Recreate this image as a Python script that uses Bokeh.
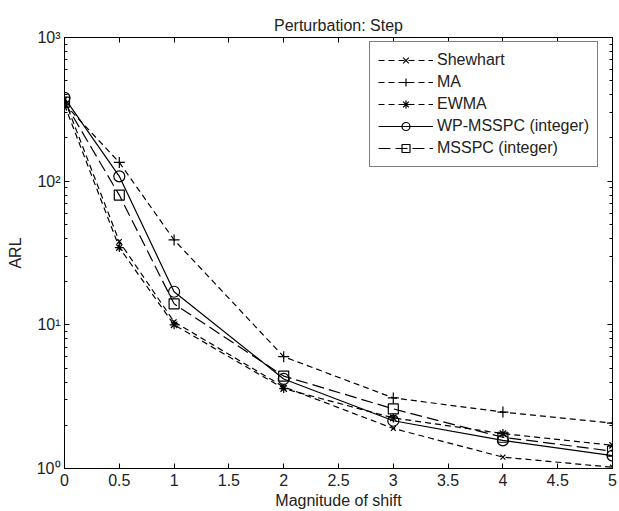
from bokeh.plotting import figure
from bokeh.models import (FixedTicker, LinearAxis, LogAxis, Legend, LegendItem,
                          CustomJSTickFormatter, Range1d)
from bokeh.embed import file_html
from bokeh.resources import INLINE

# ---- data ----
shift = [0, 0.5, 1, 2, 3, 4, 5]
shewhart = [370, 38, 10.5, 3.7, 1.9, 1.2, 1.02]
ma = [345, 135, 39, 6.0, 3.1, 2.47, 2.07]
ewma = [340, 34.5, 10, 3.6, 2.25, 1.75, 1.45]
wp_msspc = [380, 108, 17, 4.2, 2.15, 1.57, 1.23]
msspc = [355, 80, 14, 4.4, 2.6, 1.65, 1.32]

x_ticks = [0, 0.5, 1, 1.5, 2, 2.5, 3, 3.5, 4, 4.5, 5]
y_ticks = [1, 10, 100, 1000]
y_minor = [m * d for d in (1, 10, 100) for m in range(2, 10)]

FONT = "Liberation Sans"
FS = "16px"
TXT = "#222222"

p = figure(width=619, height=511, y_axis_type="log",
           x_range=Range1d(0, 5), y_range=Range1d(1, 1000),
           output_backend="svg", toolbar_location=None,
           min_border_left=64, min_border_right=7,
           min_border_top=37, min_border_bottom=43)

p.title.text = "Perturbation: Step"
p.title.align = "center"
p.title.text_font = FONT
p.title.text_font_size = FS
p.title.text_font_style = "normal"
p.title.text_color = TXT
p.title.standoff = 7

p.xgrid.visible = False
p.ygrid.visible = False
p.outline_line_color = "black"
p.outline_line_alpha = 1
p.background_fill_color = "white"
p.border_fill_color = "white"

fmt = CustomJSTickFormatter(code="""
const sup = {0: '\u2070', 1: '\u00b9', 2: '\u00b2', 3: '\u00b3'};
const e = Math.round(Math.log10(tick));
return '10' + sup[e];
""")

xax = p.xaxis[0]
xax.ticker = FixedTicker(ticks=x_ticks)
xax.axis_label = "Magnitude of shift"
yax = p.yaxis[0]
yax.ticker = FixedTicker(ticks=y_ticks, minor_ticks=y_minor)
yax.formatter = fmt
yax.axis_label = "ARL"

for ax in (xax, yax):
    ax.major_label_text_font = FONT
    ax.major_label_text_font_size = FS
    ax.major_label_text_color = TXT
    ax.axis_label_text_font = FONT
    ax.axis_label_text_font_size = FS
    ax.axis_label_text_font_style = "normal"
    ax.axis_label_text_color = TXT
    ax.axis_line_color = "black"
    ax.major_tick_line_color = "black"
    ax.minor_tick_line_color = "black"
    ax.major_tick_in = 5
    ax.major_tick_out = 0
    ax.minor_tick_in = 3
    ax.minor_tick_out = 0

xax.minor_tick_in = 0
xax.major_label_standoff = 5
xax.axis_label_standoff = 3
yax.major_label_standoff = 4
yax.axis_label_standoff = 10

# mirrored ticks on top and right (box style), without labels
blank = CustomJSTickFormatter(code="return '';")
top = LinearAxis(ticker=FixedTicker(ticks=x_ticks), formatter=blank,
                 major_tick_in=5, major_tick_out=0, minor_tick_in=0, minor_tick_out=0,
                 major_label_standoff=0, axis_line_color="black")
right = LogAxis(ticker=FixedTicker(ticks=y_ticks, minor_ticks=y_minor), formatter=blank,
                major_tick_in=5, major_tick_out=0, minor_tick_in=3, minor_tick_out=0,
                major_label_standoff=0, axis_line_color="black")
p.add_layout(top, "above")
p.add_layout(right, "right")

series = [
    ("Shewhart", shewhart, "6 4", "x", 7),
    ("MA", ma, "6 4", "cross", 11),
    ("EWMA", ewma, "6 4", "asterisk", 9),
    ("WP-MSSPC (integer)", wp_msspc, "solid", "circle", 11),
    ("MSSPC (integer)", msspc, "12 5", "square", 10),
]

items = []
for label, ys, dash, marker, size in series:
    ln = p.line(shift, ys, line_color="black", line_width=1.2, line_dash=dash)
    sc = p.scatter(shift, ys, marker=marker, size=size, line_color="black",
                   fill_color=None, line_width=1.2)
    items.append(LegendItem(label=label, renderers=[ln, sc]))

legend = Legend(items=items, location=(305, 301))
legend.label_text_font = FONT
legend.label_text_font_size = FS
legend.label_text_color = TXT
legend.glyph_width = 55
legend.glyph_height = 20
legend.label_height = 20
legend.label_standoff = 4
legend.padding = 8
legend.spacing = 2
legend.border_line_color = "black"
legend.border_line_width = 1
legend.background_fill_color = "white"
legend.background_fill_alpha = 1
p.add_layout(legend, "center")

with open("out.html", "w", encoding="utf-8") as f:
    f.write(file_html(p, INLINE))
